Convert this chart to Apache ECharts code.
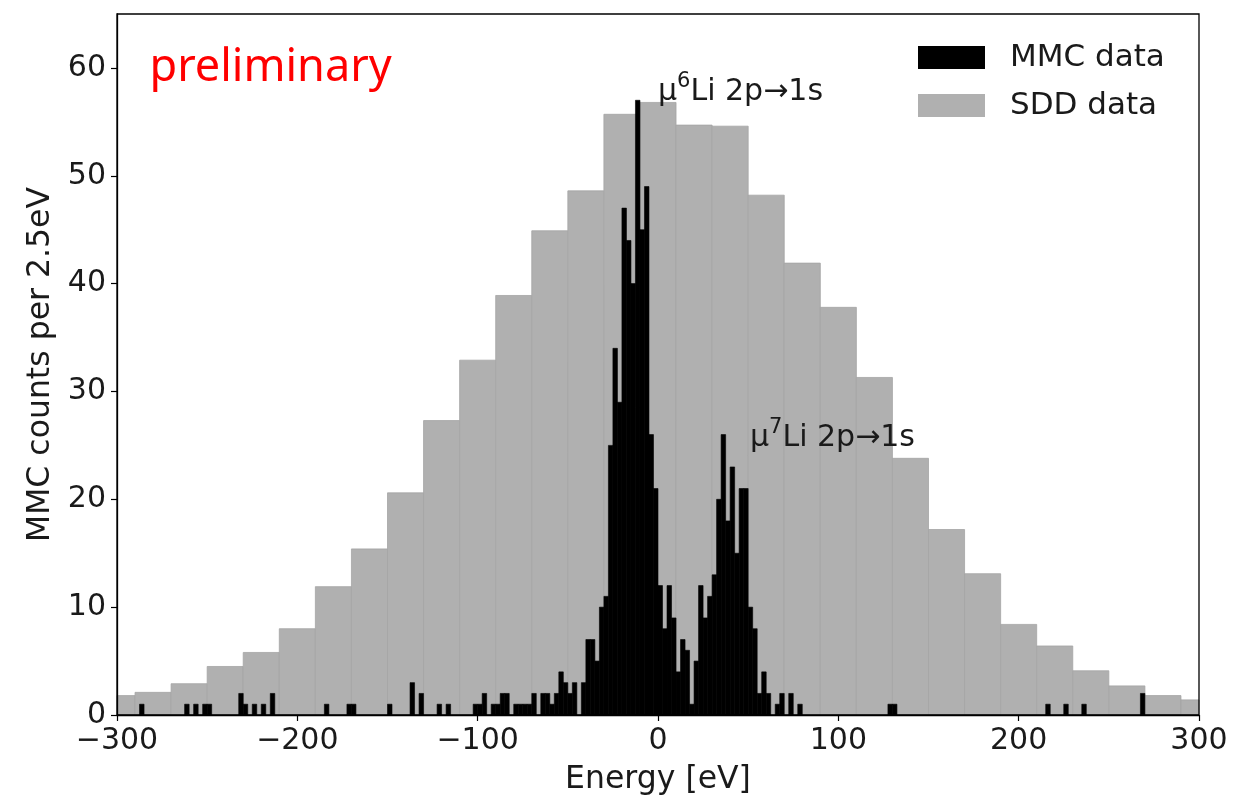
<!DOCTYPE html>
<html>
<head>
<meta charset="utf-8">
<script src="https://cdn.jsdelivr.net/npm/echarts@6/dist/echarts.min.js"></script>
<style>
html,body{margin:0;padding:0;background:#fff;}
#chart{width:1256px;height:797px;}
</style>
</head>
<body>
<div id="chart"></div>
<script>
// ---- data ----
const sddCenters = [-300,-280,-260,-240,-220,-200,-180,-160,-140,-120,-100,-80,-60,-40,-20,0,20,40,60,80,100,120,140,160,180,200,220,240,260,280,300];
const sddCounts  = [1.8,2.1,2.9,4.5,5.8,8.0,11.9,15.4,20.6,27.3,32.9,38.9,44.9,48.6,55.7,56.8,54.7,54.6,48.2,41.9,37.8,31.3,23.8,17.2,13.1,8.4,6.4,4.1,2.7,1.8,1.4];
const sddBinWidth = 20;

const mmcBinLeft = [-287.5,-262.5,-257.5,-252.5,-250,-232.5,-230,-225,-220,-215,-185,-172.5,-170,-150,-137.5,-132.5,-122.5,-117.5,
  -102.5,-100,-97.5,-92.5,-90,-87.5,-85,-80,-77.5,-75,-72.5,-70,-65,-62.5,-60,-57.5,-55,-52.5,-50,-47.5,-42.5,-40,-37.5,-35,-32.5,-30,
  -27.5,-25,-22.5,-20,-17.5,-15,-12.5,-10,-7.5,-5,-2.5,0,2.5,5,7.5,10,12.5,15,17.5,20,22.5,25,27.5,30,32.5,35,37.5,40,42.5,45,47.5,
  50,52.5,55,57.5,60,65,67.5,72.5,77.5,127.5,130,215,225,235,267.5];
const mmcCounts = [1,1,1,1,1,2,1,1,1,2,1,1,1,1,3,2,1,1,
  1,1,2,1,1,2,2,1,1,1,1,2,2,2,1,2,4,3,2,3,3,7,7,5,10,11,
  25,34,29,47,44,40,57,45,49,26,21,12,8,12,9,4,7,6,1,5,12,9,11,13,20,26,18,23,15,21,21,
  10,8,2,4,2,1,2,2,1,1,1,1,1,1,2];
const mmcBinWidth = 2.5;

const xTicks = [-300,-200,-100,0,100,200,300];
const yTicks = [0,10,20,30,40,50,60];

// ---- chart ----
const FONT = 'DejaVu Sans';
const chart = echarts.init(document.getElementById('chart'), null, {renderer:'canvas'});

function histRenderer(width){
  return function(params, api){
    const x0 = api.value(0), h = api.value(1);
    const p0 = api.coord([x0, h]);
    const p1 = api.coord([x0 + width, 0]);
    const cs = params.coordSys;
    const rect = echarts.graphic.clipRectByRect(
      {x:p0[0], y:p0[1], width:p1[0]-p0[0], height:p1[1]-p0[1]},
      {x:cs.x, y:cs.y, width:cs.width, height:cs.height});
    return rect && {type:'rect', shape:rect, style:api.style()};
  };
}

const minus = v => (v < 0 ? '\u2212' + (-v) : String(v));

const option = {
  backgroundColor:'#fff',
  animation:false,
  grid:{left:117, right:57, top:14, bottom:82, show:true, borderColor:'#000', borderWidth:1.3, z:10,
        containLabel:false, outerBoundsMode:'none'},
  legend:{
    orient:'vertical', left:918, top:42, padding:0, itemWidth:67, itemHeight:23, itemGap:17,
    icon:'rect',
    itemStyle:{borderWidth:0},
    textStyle:{fontFamily:FONT, fontSize:31, color:'#1a1a1a', lineHeight:31, padding:[0,0,0,20]},
    data:['MMC data','SDD data']
  },
  xAxis:{
    type:'value', min:-300, max:300, interval:100, z:10,
    name:'Energy [eV]', nameLocation:'middle', nameGap:49,
    nameTextStyle:{fontFamily:FONT, fontSize:31.5, color:'#1a1a1a'},
    axisLine:{show:true, onZero:false, lineStyle:{color:'#000', width:1.3}},
    axisTick:{show:true, inside:false, length:6, lineStyle:{color:'#000', width:1.2}, customValues:xTicks},
    axisLabel:{fontFamily:FONT, fontSize:30, color:'#1a1a1a', margin:11, formatter:minus, customValues:xTicks},
    splitLine:{show:false}
  },
  yAxis:{
    type:'value', min:0, max:65, interval:10, z:10,
    name:'MMC counts per 2.5eV', nameLocation:'middle', nameGap:54, nameRotate:90,
    nameTextStyle:{fontFamily:FONT, fontSize:31.5, color:'#1a1a1a'},
    axisLine:{show:true, onZero:false, lineStyle:{color:'#000', width:1.3}},
    axisTick:{show:true, inside:false, length:6, lineStyle:{color:'#000', width:1.2}, customValues:yTicks},
    axisLabel:{fontFamily:FONT, fontSize:30, color:'#1a1a1a', margin:11, formatter:minus, customValues:yTicks},
    splitLine:{show:false}
  },
  series:[
    {
      name:'SDD data', type:'custom', renderItem:histRenderer(sddBinWidth),
      itemStyle:{color:'#b0b0b0', borderColor:'#a4a4a4', borderWidth:0.8},
      encode:{x:0, y:1}, z:2,
      data:sddCenters.map((c,i)=>[c - sddBinWidth/2, sddCounts[i]])
    },
    {
      name:'MMC data', type:'custom', renderItem:histRenderer(mmcBinWidth),
      itemStyle:{color:'#000', borderColor:'#000', borderWidth:0.6},
      encode:{x:0, y:1}, z:3,
      data:mmcBinLeft.map((x,i)=>[x, mmcCounts[i]])
    }
  ]
};
chart.setOption(option);

// annotations placed via data coordinates
const richLabel = {
  m:{fontFamily:FONT, fontSize:30, lineHeight:36, verticalAlign:'bottom', fill:'#1a1a1a', color:'#1a1a1a'},
  s:{fontFamily:FONT, fontSize:21, lineHeight:22, verticalAlign:'top', fill:'#1a1a1a', color:'#1a1a1a'}
};
function addText(){
  const a1 = chart.convertToPixel({gridIndex:0}, [0, 56.4]);
  const a2 = chart.convertToPixel({gridIndex:0}, [51, 24.3]);
  const a3 = chart.convertToPixel({gridIndex:0}, [-282, 60]);
  chart.setOption({graphic:[
    {type:'text', x:a1[0], y:a1[1], z:20, style:{text:'{m|\u03bc}{s|6}{m|Li 2p\u21921s}', rich:richLabel, verticalAlign:'bottom', align:'left'}},
    {type:'text', x:a2[0], y:a2[1], z:20, style:{text:'{m|\u03bc}{s|7}{m|Li 2p\u21921s}', rich:richLabel, verticalAlign:'bottom', align:'left'}},
    {type:'text', x:a3[0], y:a3[1], z:20, style:{text:'preliminary', fontFamily:'Noto Sans', fontSize:45, fill:'#ff0000', verticalAlign:'middle', align:'left'}}
  ]});
}
addText();
</script>
</body>
</html>
